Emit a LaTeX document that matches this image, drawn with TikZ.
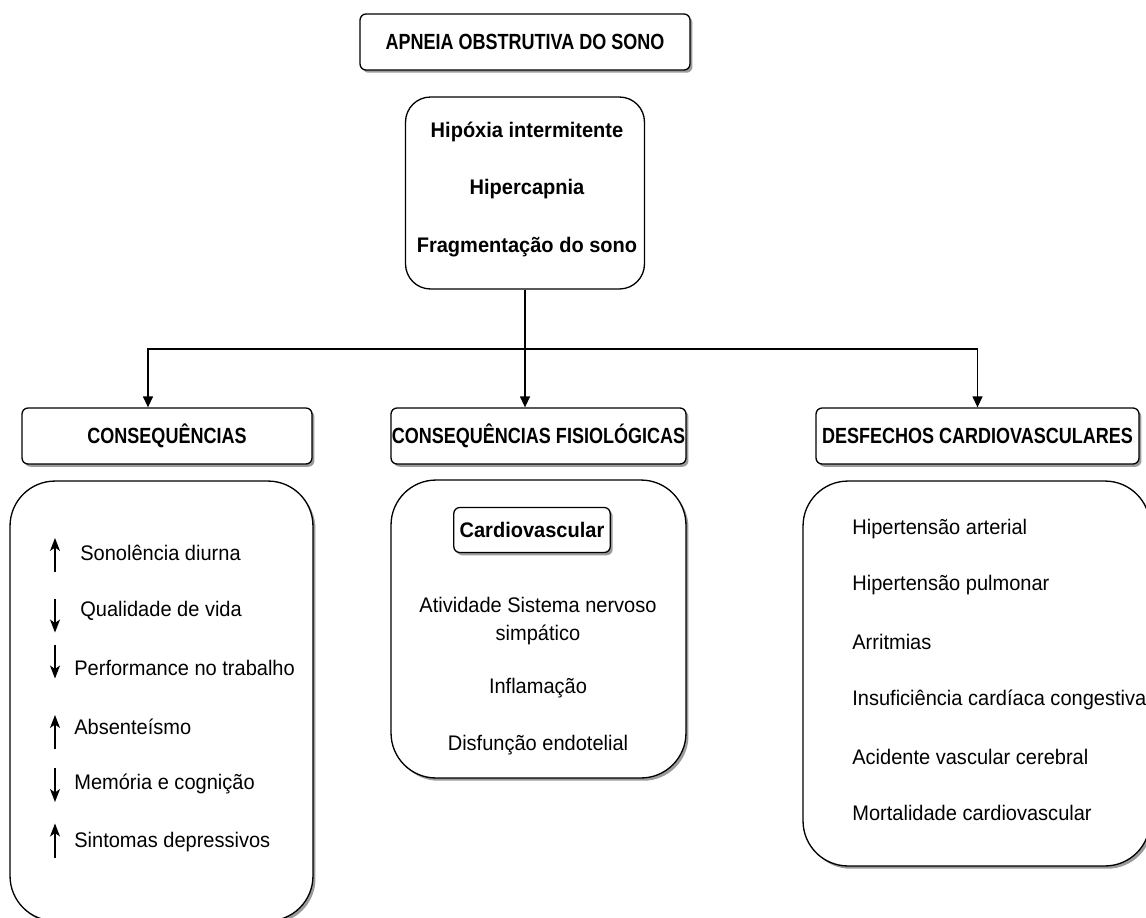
\documentclass[tikz,border=0pt]{standalone}
\usepackage{fontspec}
\setmainfont{Liberation Sans}[FakeStretch=0.95]
\newfontfamily\capsfont{Liberation Sans}[FakeStretch=0.82]
\usetikzlibrary{arrows.meta,shadows}

\begin{document}
\begin{tikzpicture}[
  x=0.02cm, y=-0.02cm,
  every node/.style={font=\fontsize{12}{14}\selectfont},
  box_shadow/.style={drop shadow={shadow xshift=0.05cm, shadow yshift=-0.055cm, fill=black!65, opacity=0.6}},
  head_box/.style={draw, line width=0.75pt, rounded corners=0.12cm, fill=white, box_shadow, minimum height=1.12cm, inner sep=0pt, font=\capsfont\bfseries\fontsize{12.5}{14}\selectfont},
  cause_box/.style={draw, line width=0.75pt, rounded corners=0.5cm, minimum width=4.78cm, minimum height=3.84cm},
  list_box/.style={draw, line width=0.75pt, rounded corners=0.9cm, fill=white, box_shadow},
  sub_box/.style={draw, line width=0.75pt, rounded corners=0.12cm, fill=white, box_shadow, minimum width=2.96cm, minimum height=0.9cm, font=\bfseries\fontsize{12}{14}\selectfont},
  bold_text/.style={inner sep=0pt, font=\bfseries\fontsize{12}{14}\selectfont},
  item_text/.style={inner sep=0pt},
  trend/.style={line width=0.7pt, -{Stealth[width=0.2cm, length=0.26cm, inset=0.07cm]}},
  flow/.style={line width=0.75pt, -{Triangle[width=0.2cm, length=0.22cm]}},
]
\useasboundingbox (0,0) rectangle (1146,917);

% top
\node[head_box, minimum width=6.6cm] (apnea) at (525,42) {APNEIA OBSTRUTIVA DO SONO};
\node[cause_box] (causes) at (525,193) {};
\node[bold_text] (hipoxia) at (527,132) {Hipóxia intermitente};
\node[bold_text] (hipercapnia) at (527,189) {Hipercapnia};
\node[bold_text] (fragment) at (527,247) {Fragmentação do sono};

% headers
\node[head_box, minimum width=5.8cm] (cons_head) at (167,436) {CONSEQUÊNCIAS};
\node[head_box, minimum width=5.9cm] (fis_head) at (538.5,436) {CONSEQUÊNCIAS FISIOLÓGICAS};
\node[head_box, minimum width=6.46cm] (desf_head) at (977.5,436) {DESFECHOS CARDIOVASCULARES};

% connectors
\coordinate (split) at (525,349);
\coordinate (to_cons) at (148,349);
\draw[line width=0.75pt] (causes.south) -- (split);
\draw[flow] (split) -- (to_cons) -- (to_cons |- cons_head.north);
\draw[flow] (split) -- (split |- fis_head.north);
\draw[flow] (split) -| (desf_head.north);

% list boxes
\node[list_box, minimum width=6.06cm, minimum height=8.8cm] (cons_box) at (161.5,701) {};
\node[list_box, minimum width=5.9cm, minimum height=5.96cm] (fis_box) at (538.5,629) {};
\node[list_box, minimum width=6.94cm, minimum height=7.7cm] (desf_box) at (976.5,673.5) {};

% consequencias
\draw (80,553) node (sono) [item_text, right] {Sonolência diurna};
\draw (80,611) node (vida) [item_text, right] {Qualidade de vida};
\draw (74,668) node (perf) [item_text, right] {Performance no trabalho};
\draw (74,727) node (abs) [item_text, right] {Absenteísmo};
\draw (74,784) node (mem) [item_text, right] {Memória e cognição};
\draw (74,842) node (dep) [item_text, right] {Sintomas depressivos};
\draw[trend] ([xshift=-0.5cm]sono.west) ++(0,19) -- ++(0,-34);
\draw[trend] ([xshift=-0.5cm]vida.west) ++(0,-12.5) -- ++(0,34);
\draw[trend] ([xshift=-0.38cm]perf.west) ++(0,-23.5) -- ++(0,34);
\draw[trend] ([xshift=-0.38cm]abs.west) ++(0,22) -- ++(0,-34);
\draw[trend] ([xshift=-0.38cm]mem.west) ++(0,-16) -- ++(0,34);
\draw[trend] ([xshift=-0.38cm]dep.west) ++(0,15.5) -- ++(0,-34);

% fisiologicas
\node[sub_box] (cardio) at (532,530) {Cardiovascular};
\node[item_text] (simp1) at (538,605) {Atividade Sistema nervoso};
\node[item_text] (simp2) at (538,635) {simpático};
\node[item_text] (infla) at (538,688) {Inflamação};
\node[item_text] (endo) at (538,745) {Disfunção endotelial};

% desfechos
\draw (852,529) node (hart) [item_text, right] {Hipertensão arterial};
\draw (852,585) node (hpul) [item_text, right] {Hipertensão pulmonar};
\draw (852,642) node (arrit) [item_text, right] {Arritmias};
\draw (852,700) node (icc) [item_text, right] {Insuficiência cardíaca congestiva};
\draw (852,757) node (avc) [item_text, right] {Acidente vascular cerebral};
\draw (852,813) node (mort) [item_text, right] {Mortalidade cardiovascular};
\end{tikzpicture}
\end{document}
